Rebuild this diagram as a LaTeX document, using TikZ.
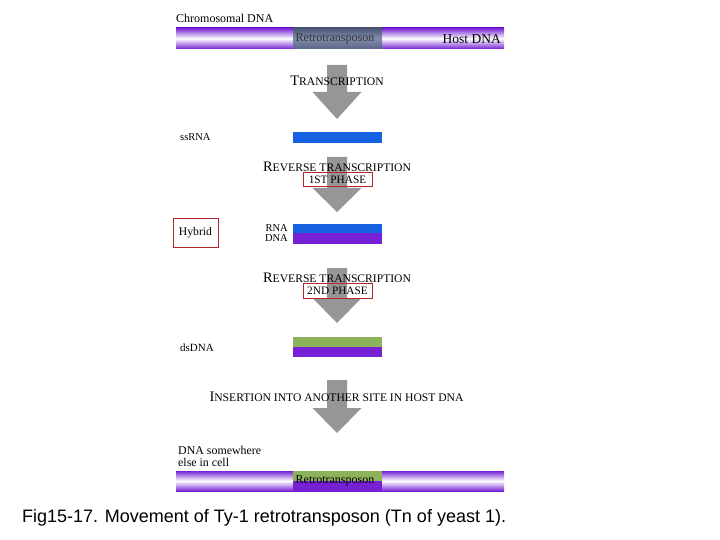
\documentclass[tikz,border=0pt]{standalone}
\usepackage{fontspec}
\setmainfont{Liberation Serif}
\newfontfamily\capfont{Liberation Sans}
\usetikzlibrary{positioning}

\definecolor{dnapurple}{RGB}{118,34,212}
\definecolor{rnablue}{RGB}{22,96,226}
\definecolor{dnagreen}{RGB}{140,178,92}
\definecolor{arrowgray}{RGB}{150,150,150}
\definecolor{retroslate}{RGB}{88,102,140}
\definecolor{boxred}{RGB}{176,40,40}

% big first letter, rest in small capitals
\newcommand{\stepword}[2]{{\fontsize{14.5}{16}\selectfont #1}{\fontsize{11.6}{13}\selectfont #2}}

\tikzset{
  lbl/.style={font=\fontsize{12}{12}\selectfont, inner sep=0pt},
  strand/.style={minimum width=89pt, inner sep=0pt, outer sep=0pt},
  phasebox/.style={draw=boxred, line width=1pt, minimum width=69pt, minimum height=14pt,
                   inner sep=0pt, font=\fontsize{11.3}{12}\selectfont},
  hostdna/.style={top color=dnapurple, bottom color=dnapurple, middle color=white}
}

\begin{document}
\begin{tikzpicture}[x=1pt,y=-1pt]
  \useasboundingbox (0,0) rectangle (720,540);

  % chromosomal DNA
  \node[lbl, anchor=west] (chromlbl) at (176,18) {Chromosomal DNA};
  \shade[hostdna] (176,28) rectangle (504,49);
  \shade[top color=retroslate!85!black, bottom color=retroslate, middle color=retroslate!75!white]
    (293,28) rectangle (382,49);
  \node[lbl, text=black!80] (retrotop) at (335,39) {Retrotransposon};
  \node[lbl, anchor=east, font=\fontsize{13.5}{14}\selectfont] (hostlbl) at (501,39.5) {Host DNA};

  % arrows
  \foreach \ya/\yb/\yc in {65/92/119, 157/188/212, 268/298/323, 380/408/433}
    \fill[arrowgray] (327,\ya) -- (347,\ya) -- (347,\yb) -- (361.5,\yb) -- (337,\yc)
                     -- (312.5,\yb) -- (327,\yb) -- cycle;

  \node[lbl] (transcr) at (337,81) {\stepword{T}{RANSCRIPTION}};

  % ssRNA
  \node[strand, fill=rnablue, minimum height=11pt] (ssrna) at (337.5,137.5) {};
  \node[lbl, anchor=west, font=\fontsize{10.5}{12}\selectfont] (ssrnalbl) at (180,137.5) {ssRNA};

  \node[lbl] (rtone) at (337,167) {\stepword{R}{EVERSE TRANSCRIPTION}};
  \node[phasebox] (phaseone) at (337.5,179.5) {1ST PHASE};

  % hybrid
  \node[strand, fill=rnablue, minimum height=9pt] (hybrna) at (337.5,228.5) {};
  \node[strand, fill=dnapurple, minimum height=11pt, below=0pt of hybrna] (hybdna) {};
  \node[lbl, left=5pt of hybrna, font=\fontsize{10.5}{12}\selectfont] (rnalbl) {RNA};
  \node[lbl, left=5pt of hybdna, font=\fontsize{10.5}{12}\selectfont] (dnalbl) {DNA};
  \node[draw=boxred, line width=1pt, minimum width=45pt, minimum height=28pt, inner sep=0pt,
        font=\fontsize{11.7}{12}\selectfont] (hybrid) at (195.5,233) {Hybrid};

  \node[lbl] (rttwo) at (337,278) {\stepword{R}{EVERSE TRANSCRIPTION}};
  \node[phasebox, minimum height=15pt] (phasetwo) at (337.5,290.5) {2ND PHASE};

  % dsDNA
  \node[strand, fill=dnagreen, minimum height=10pt] (dsgreen) at (337.5,342) {};
  \node[strand, fill=dnapurple, minimum height=10pt, below=0pt of dsgreen] (dspurple) {};
  \node[lbl, anchor=west, font=\fontsize{11}{12}\selectfont] (dslbl) at (180,348) {dsDNA};

  \node[lbl] (insert) at (336.5,397) {\stepword{I}{NSERTION INTO ANOTHER SITE IN HOST DNA}};

  % DNA elsewhere
  \node[lbl, anchor=north west, align=left, font=\fontsize{11.9}{12}\selectfont] (elselbl)
    at (178,446) {DNA somewhere\\else in cell};
  \shade[hostdna] (176,471) rectangle (504,491);
  \fill[dnagreen] (293,471) rectangle (382,481);
  \fill[dnapurple] (293,481) rectangle (382,491);
  \node[lbl] (retrobot) at (335,481) {Retrotransposon};

  % caption
  \node[anchor=west, inner sep=0pt, font=\capfont\fontsize{18}{20}\selectfont] (caption)
    at (22,518) {Fig15-17. Movement of Ty-1 retrotransposon (Tn of yeast 1).};
\end{tikzpicture}
\end{document}
